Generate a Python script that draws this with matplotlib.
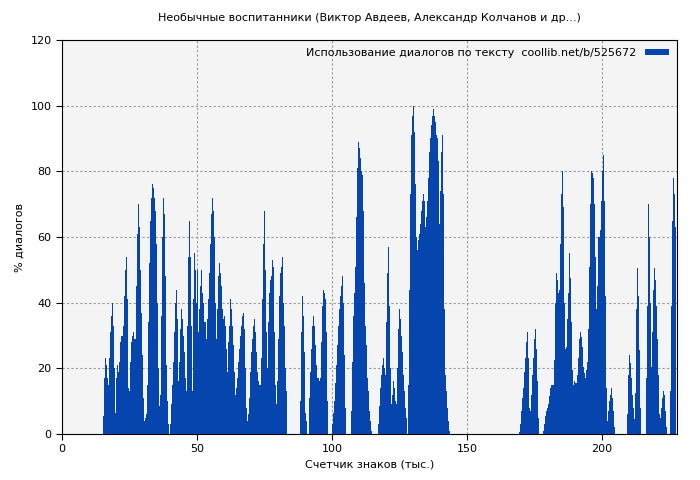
import matplotlib
matplotlib.use("Agg")
import matplotlib.pyplot as plt
import numpy as np

BLUE = "#0645ad"
STEP = 0.37  # thousand characters per bar

# (start in thousands of chars, % dialogue values)
seg_a_start = 15.1
seg_a = [5.5, 17, 23, 21, 17, 15, 23, 31, 36, 40, 33, 20, 6.5, 17, 21, 19, 22, 28, 30, 30, 33, 42, 50, 54,
         41, 14, 13, 22, 28, 30, 31, 29, 29, 45, 61, 70, 63, 50, 37, 24, 11, 4, 5, 6, 15, 34, 52, 65, 72,
         76, 75, 72, 68, 58, 40, 20, 8.5, 12, 36, 60, 72, 67, 48, 21, 10, 3, 0, 3, 9, 15, 22, 31, 40, 44,
         35, 16, 22, 32, 38, 35, 30, 25, 17, 13, 33, 54, 65, 54, 33, 13, 41, 55, 50, 40, 50, 31, 38, 45,
         50, 43, 40, 34, 34, 29, 35, 41, 49, 58, 67, 72, 68, 60, 40, 29, 38, 48, 52, 49, 45, 38, 35, 36,
         33, 26, 19, 28, 33, 41, 38, 33, 27, 19, 12, 14, 17, 22, 26, 30, 33, 36, 37, 32, 20, 8, 4, 6, 11,
         19, 25, 29, 33, 35, 31, 25, 19, 16, 15, 15, 23, 41, 58, 68, 50, 31, 20, 34, 43, 47, 48, 53, 51,
         31, 15, 9, 16, 29, 42, 49, 51, 54, 40, 33, 20, 13]
seg_b_start = 88.1
seg_b = [10, 31, 42, 36, 25, 6.5, 4]
seg_c_start = 91.5
seg_c = [11, 19, 26, 33, 36, 33, 27, 21, 17, 17, 16, 17, 28, 39, 44, 43, 41, 31, 10]
seg_d_start = 100.0
seg_d = [3, 6.5, 10, 15.5, 21, 27, 33, 38, 42, 45, 48, 40, 24, 8]
seg_e_start = 107.0
seg_e = [7, 22, 36, 43, 51, 66, 81, 89, 87, 84, 80, 79, 68, 46, 33, 27, 17, 13, 7, 4, 1]
seg_f_start = 116.9
seg_f = [3, 8.5, 14, 18, 21, 23, 20, 18, 34, 49, 57, 39, 20, 9, 12, 16, 14, 10, 9, 20, 32, 38, 35, 30,
         25, 18, 13, 8, 5]
seg_g_start = 128.1
seg_g = [15, 44, 73, 91, 97, 100, 92, 76, 60, 56, 59, 61, 64, 68, 71, 73, 71, 63, 66, 71, 78, 86, 90, 94,
         97, 99, 97, 95, 91, 90, 83, 64, 74, 86, 91, 73, 38, 18, 13, 8, 4, 1]
seg_h_start = 169.2
seg_h = [0.6, 3, 7, 11, 14, 19, 23, 28, 31, 23, 8, 7, 12, 18, 23, 29, 32, 26, 16, 5]
seg_i_start = 178.1
seg_i = [1, 3, 5.5, 7, 8, 9, 11.5, 14, 15, 15, 15, 22.5, 40, 49, 47, 43, 44, 58, 73, 80, 69, 40, 26,
         26.5, 35, 43, 55, 47.5, 34, 19.5, 15, 16, 15.5, 15.5, 18, 23, 29, 31, 29.5, 26.5, 20.5, 18.5,
         17, 19.5, 22, 32, 51, 70, 80, 79.5, 78, 70, 54, 38, 45, 60, 60, 62, 71, 80, 85, 71, 42, 14, 4,
         7, 10, 12, 14, 11, 7, 2]
seg_j_start = 209.3
seg_j = [6, 18, 24, 21.5, 17, 12, 8, 4.5, 12.5, 38, 50.5, 42, 25.5, 8]
seg_k_start = 216.3
seg_k = [17, 39, 70, 60, 40, 20.5, 31, 44, 50.5, 47, 39, 29, 18, 6, 5, 8, 11, 13, 12, 7, 2]
seg_l_start = 225.1
seg_l = [13, 39, 65, 78, 73, 63]

segments = [(seg_a_start, seg_a), (seg_b_start, seg_b), (seg_c_start, seg_c), (seg_d_start, seg_d),
            (seg_e_start, seg_e), (seg_f_start, seg_f), (seg_g_start, seg_g), (seg_h_start, seg_h),
            (seg_i_start, seg_i), (seg_j_start, seg_j), (seg_k_start, seg_k), (seg_l_start, seg_l)]

fig = plt.figure(figsize=(7, 4.8), dpi=100)
ax = fig.add_axes([0.0886, 0.0958, 0.8785, 0.8209])
ax.set_facecolor("#f4f4f4")

first = True
for start, vals in segments:
    x = start + np.arange(len(vals)) * STEP
    ax.bar(x, vals, width=STEP, align="edge", color=BLUE, linewidth=0,
           label="Использование диалогов по тексту  coollib.net/b/525672" if first else None)
    first = False

ax.set_xlim(0, 227.8)
ax.set_ylim(0, 120)
ax.set_xticks([0, 50, 100, 150, 200])
ax.set_yticks(range(0, 121, 20))
ax.grid(True, color="#999999", linestyle=(0, (2, 2)), linewidth=0.8)
ax.set_axisbelow(True)
ax.tick_params(labelsize=8, direction="out", length=4)
ax.set_xlabel("Счетчик знаков (тыс.)", fontsize=8)
ax.set_ylabel("% диалогов", fontsize=8)
ax.set_title("Необычные воспитанники (Виктор Авдеев, Александр Колчанов и др...)", fontsize=8, pad=14)
leg = ax.legend(loc="upper right", fontsize=8, frameon=False, markerfirst=False,
                handlelength=2.2, handleheight=0.5, borderaxespad=0.3)

fig.savefig("out.png", dpi=100, facecolor="white")
